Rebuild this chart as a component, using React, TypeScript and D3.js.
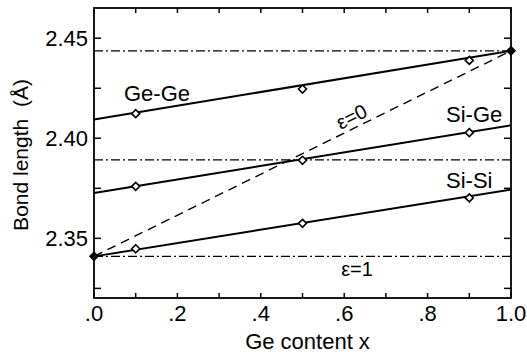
import React from "react";
import * as d3 from "d3";

const W = 527;
const H = 354;

// Ge content where diamonds are plotted
const geGePtsX = [0.1, 0.5, 0.9, 1.0];
const geGePtsY = [2.4123, 2.4246, 2.4389, 2.4437];
const siGePtsX = [0.1, 0.5, 0.9];
const siGePtsY = [2.376, 2.389, 2.4028];
const siSiPtsX = [0.0, 0.1, 0.5, 0.9];
const siSiPtsY = [2.341, 2.3448, 2.3575, 2.3702];

// Linear fits (x = 0 .. 1)
const fitX = [0, 1];
const geGeFit = [2.4094, 2.4437];
const siGeFit = [2.3727, 2.4065];
const siSiFit = [2.341, 2.3744];
const eps0Line = [2.341, 2.4437];

// Dash-dot reference levels
const refLevels = [2.4437, 2.3892, 2.341];
const filledX = [0.0, 1.0];

const xTicks = [0, 0.2, 0.4, 0.6, 0.8, 1.0];
const xTickLabels = [".0", ".2", ".4", ".6", ".8", "1.0"];
const xMinor = [0.1, 0.3, 0.5, 0.7, 0.9];
const yTicks = [2.35, 2.4, 2.45];
const yTickLabels = ["2.35", "2.40", "2.45"];
const yMinor = [2.325, 2.375, 2.425];

const m = { left: 94, right: 511, top: 8, bottom: 298 };
const x = d3.scaleLinear().domain([0, 1]).range([m.left, m.right]);
const y = d3.scaleLinear().domain([2.3202, 2.4651]).range([m.bottom, m.top]);

const font = "'Liberation Sans', Arial, Helvetica, sans-serif";

function Diamond({ cx, cy, filled }: { cx: number; cy: number; filled?: boolean }) {
  const r = 4;
  return (
    <path
      d={`M${cx},${cy - r}L${cx + r},${cy}L${cx},${cy + r}L${cx - r},${cy}Z`}
      fill={filled ? "#000" : "#fff"}
      stroke="#000"
      strokeWidth={1.6}
    />
  );
}

export default function App() {
  const line = d3
    .line<[number, number]>()
    .x((d) => x(d[0]))
    .y((d) => y(d[1]));
  const fitPath = (ys: number[]) => line(fitX.map((fx, i) => [fx, ys[i]] as [number, number])) || "";

  const slopeAngle =
    (Math.atan2(y(eps0Line[1]) - y(eps0Line[0]), x(1) - x(0)) * 180) / Math.PI;

  const allX = [...xTicks, ...xMinor];
  const allY = [...yTicks, ...yMinor];

  const series = [
    { xs: siSiPtsX, ys: siSiPtsY },
    { xs: siGePtsX, ys: siGePtsY },
    { xs: geGePtsX, ys: geGePtsY },
  ];

  const eAx = 0.625;
  const eAy = eps0Line[0] + (eps0Line[1] - eps0Line[0]) * eAx;

  return (
    <svg
      width={W}
      height={H}
      style={{ position: "absolute", left: 0, top: 0, background: "#fff" }}
      fontFamily={font}
    >
      <rect width={W} height={H} fill="#fff" />
      {refLevels.map((v, i) => (
        <line
          key={"ref" + i}
          x1={x(0)}
          x2={x(1)}
          y1={y(v)}
          y2={y(v)}
          stroke="#000"
          strokeWidth={1.3}
          strokeDasharray="9,3,2,3"
        />
      ))}
      <path d={fitPath(eps0Line)} fill="none" stroke="#000" strokeWidth={1.4} strokeDasharray="9,6" />
      {[geGeFit, siGeFit, siSiFit].map((f, i) => (
        <path key={"fit" + i} d={fitPath(f)} fill="none" stroke="#000" strokeWidth={2} />
      ))}
      <rect
        x={m.left}
        y={m.top}
        width={m.right - m.left}
        height={m.bottom - m.top}
        fill="none"
        stroke="#000"
        strokeWidth={1.8}
      />
      {allX.map((t, i) => (
        <g key={"xt" + i}>
          <line x1={x(t)} x2={x(t)} y1={m.bottom} y2={m.bottom - 5} stroke="#000" strokeWidth={1.5} />
          <line x1={x(t)} x2={x(t)} y1={m.top} y2={m.top + 5} stroke="#000" strokeWidth={1.5} />
        </g>
      ))}
      {allY.map((t, i) => (
        <g key={"yt" + i}>
          <line x1={m.left} x2={m.left + 7} y1={y(t)} y2={y(t)} stroke="#000" strokeWidth={1.5} />
          <line x1={m.right} x2={m.right - 7} y1={y(t)} y2={y(t)} stroke="#000" strokeWidth={1.5} />
        </g>
      ))}
      {series.map((s, si) =>
        s.xs.map((px, i) => (
          <Diamond
            key={`d${si}-${i}`}
            cx={x(px)}
            cy={y(s.ys[i])}
            filled={filledX.includes(px)}
          />
        ))
      )}
      {xTicks.map((t, i) => (
        <text key={"xl" + i} x={x(t)} y={321} textAnchor="middle" fontSize={22}>
          {xTickLabels[i]}
        </text>
      ))}
      {yTicks.map((t, i) => (
        <text key={"yl" + i} x={88} y={y(t) + 8} textAnchor="end" fontSize={22}>
          {yTickLabels[i]}
        </text>
      ))}
      <text x={(m.left + m.right) / 2 + 5} y={349} textAnchor="middle" fontSize={22}>
        Ge content x
      </text>
      <text
        transform={`translate(28,155) rotate(-90)`}
        textAnchor="middle"
        fontSize={21}
        style={{ whiteSpace: "pre" }}
      >
        {"Bond length  (Å)"}
      </text>
      <text x={124} y={101} fontSize={22}>Ge-Ge</text>
      <text x={446} y={122} fontSize={22}>Si-Ge</text>
      <text x={446} y={188} fontSize={22}>Si-Si</text>
      <text x={357} y={276} textAnchor="middle" fontSize={20}>ε=1</text>
      <text
        transform={`translate(${x(eAx)},${y(eAy) - 5}) rotate(${slopeAngle})`}
        textAnchor="middle"
        fontSize={20}
      >
        ε=0
      </text>
    </svg>
  );
}
